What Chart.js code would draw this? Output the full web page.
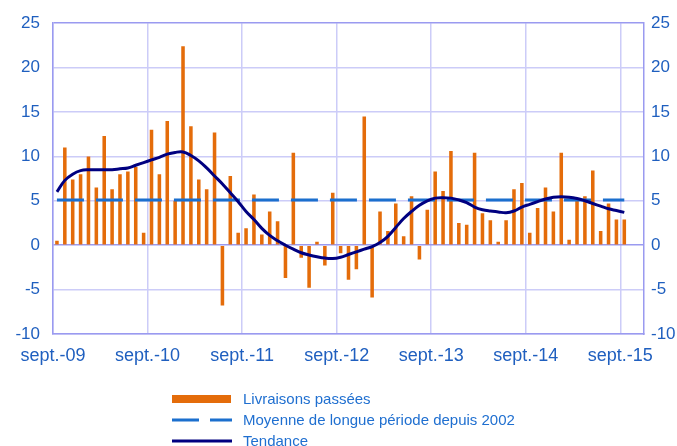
<!DOCTYPE html>
<html lang="fr">
<head>
<meta charset="utf-8">
<script src="https://cdn.jsdelivr.net/npm/chart.js@4.4.0/dist/chart.umd.min.js"></script>
<style>
  html, body { margin: 0; padding: 0; background: #fff; }
  #wrap { position: relative; width: 677px; height: 446px; }
  #legend { position: absolute; left: 172px; top: 388px; font: 15px "Liberation Sans", Arial, sans-serif; color: #1f6fd0; }
  .row { display: flex; align-items: center; height: 21px; }
  .row svg { margin-right: 11px; }
</style>
</head>
<body>
<div id="wrap">
  <canvas id="chart" width="677" height="446"></canvas>
  <div id="legend"></div>
</div>
<script>
// tick labels on the date axis (one every 12 months, first one = sept. 2009)
const tickLabels = ['sept.-09', 'sept.-10', 'sept.-11', 'sept.-12', 'sept.-13', 'sept.-14', 'sept.-15'];
const monthsOnAxis = 75;

// monthly values, sept. 2009 -> sept. 2015
const livraisons = [
  0.5, 11.0, 7.4, 8.0, 10.0, 6.5, 12.3, 6.3, 8.0, 8.3,
  8.8, 1.4, 13.0, 8.0, 14.0, 5.0, 22.4, 13.4, 7.4, 6.3,
  12.7, -6.8, 7.8, 1.4, 1.9, 5.7, 1.2, 3.8, 2.7, -3.7,
  10.4, -1.4, -4.8, 0.4, -2.3, 5.9, -0.9, -3.9, -2.7, 14.5,
  -5.9, 3.8, 1.6, 4.7, 1.0, 5.5, -1.6, 4.0, 8.3, 6.1,
  10.6, 2.5, 2.3, 10.4, 3.6, 2.8, 0.4, 2.8, 6.3, 7.0,
  1.4, 4.2, 6.5, 3.8, 10.4, 0.6, 5.1, 5.5, 8.4, 1.6,
  4.7, 2.9, 2.9
];
const tendance = [
  6.0, 7.3, 8.0, 8.4, 8.5, 8.5, 8.5, 8.5, 8.6, 8.7,
  9.0, 9.3, 9.6, 9.9, 10.25, 10.45, 10.5, 10.1, 9.5, 8.7,
  7.8, 6.9, 5.9, 4.9, 3.8, 2.9, 1.9, 1.1, 0.5, 0.0,
  -0.45, -0.85, -1.1, -1.3, -1.45, -1.5, -1.35, -1.05, -0.75, -0.45,
  -0.15, 0.3, 1.0, 2.0, 3.0, 3.8, 4.5, 5.0, 5.3, 5.35,
  5.3, 5.1, 4.8, 4.3, 4.0, 3.85, 3.75, 3.65, 3.85, 4.3,
  4.6, 4.9, 5.2, 5.4, 5.45, 5.4, 5.25, 5.0, 4.7, 4.4,
  4.1, 3.9, 3.7
];
const moyenneLongue = 5.1;

const orange = '#e46c0a';
const dashBlue = '#1b6fce';
const navy = '#000080';
const gridColor = '#ccccf8';
const borderColor = '#9a9af0';
const textColor = '#1f5fbf';

const toPoints = (arr) => arr.map((v, i) => ({ x: i + 0.5, y: v }));

document.addEventListener('DOMContentLoaded', () => {
  const ctx = document.getElementById('chart');
  const family = '"Liberation Sans", Arial, sans-serif';

  const chart = new Chart(ctx, {
    data: {
      datasets: [
        {
          type: 'bar',
          label: 'Livraisons passées',
          data: toPoints(livraisons),
          backgroundColor: orange,
          barPercentage: 0.45,
          categoryPercentage: 1,
          order: 3
        },
        {
          type: 'line',
          label: 'Moyenne de longue période depuis 2002',
          data: [{ x: 0.5, y: moyenneLongue }, { x: livraisons.length - 0.5, y: moyenneLongue }],
          borderColor: dashBlue,
          borderWidth: 3,
          borderDash: [27, 12],
          pointRadius: 0,
          order: 2
        },
        {
          type: 'line',
          label: 'Tendance',
          data: toPoints(tendance),
          borderColor: navy,
          borderWidth: 3,
          tension: 0.4,
          pointRadius: 0,
          order: 1
        }
      ]
    },
    options: {
      responsive: false,
      animation: false,
      layout: { padding: { top: 9, bottom: 72, left: 0, right: 0 } },
      plugins: {
        legend: { display: false },
        tooltip: { enabled: false }
      },
      scales: {
        x: {
          type: 'linear',
          min: 0,
          max: monthsOnAxis,
          offset: false,
          grid: { color: gridColor, lineWidth: 1.5, drawTicks: false, offset: false },
          border: { color: borderColor, width: 1.5 },
          ticks: {
            stepSize: 12,
            includeBounds: false,
            autoSkip: false,
            maxRotation: 0,
            padding: 11,
            color: textColor,
            font: { family, size: 18 },
            callback: (value) => tickLabels[value / 12] || ''
          },
          afterFit: (scale) => { scale.height = 40; }
        },
        y: {
          position: 'left',
          min: -10,
          max: 25,
          grid: {
            drawTicks: false,
            lineWidth: 1.5,
            color: (c) => (c.tick && (c.tick.value === 0 || c.tick.value === 25)) ? borderColor : gridColor
          },
          border: { color: borderColor, width: 1.5 },
          ticks: { stepSize: 5, padding: 13, color: textColor, font: { family, size: 17 } },
          afterFit: (scale) => { scale.width = 53; }
        },
        y2: {
          position: 'right',
          min: -10,
          max: 25,
          grid: { display: false, drawTicks: false },
          border: { color: borderColor, width: 1.5 },
          ticks: { stepSize: 5, padding: 7, color: textColor, font: { family, size: 17 } },
          afterFit: (scale) => { scale.width = 33; }
        }
      }
    }
  });

  // legend built from the datasets, stacked vertically under the plot
  const legend = document.getElementById('legend');
  [0, 1, 2].forEach((i) => {
    const ds = chart.data.datasets[i];
    let symbol;
    if (ds.type === 'bar') {
      symbol = `<rect x="0" y="1" width="59" height="8" fill="${ds.backgroundColor}"/>`;
    } else if (ds.borderDash) {
      symbol = `<line x1="0" y1="5" x2="60" y2="5" stroke="${ds.borderColor}" stroke-width="3" stroke-dasharray="27 11"/>`;
    } else {
      symbol = `<line x1="0" y1="5" x2="60" y2="5" stroke="${ds.borderColor}" stroke-width="3"/>`;
    }
    const row = document.createElement('div');
    row.className = 'row';
    row.innerHTML = `<svg width="60" height="10">${symbol}</svg><span>${ds.label}</span>`;
    legend.appendChild(row);
  });
});
</script>
</body>
</html>
